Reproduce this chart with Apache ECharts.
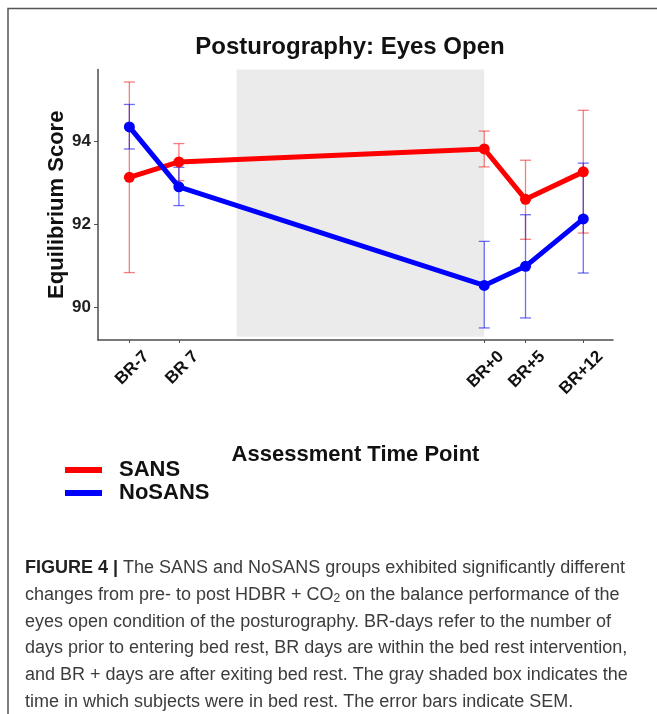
<!DOCTYPE html>
<html>
<head>
<meta charset="utf-8">
<title>Posturography: Eyes Open</title>
<script src="https://cdn.jsdelivr.net/npm/echarts@6.0.0/dist/echarts.min.js"></script>
<style>
    html, body { margin: 0; padding: 0; background: #fff; }
    #main { width: 657px; height: 714px; }
</style>
</head>
<body>
<div id="main"></div>
<script>
    // time points (days relative to start of bed rest) and their labels
    var timeLabels = ['BR-7', 'BR 7', 'BR+0', 'BR+5', 'BR+12'];
    var timeDays = [-13, -7, 30, 35, 42];

    // SANS group: mean and SEM range
    var sansMean = [93.13, 93.50, 93.81, 92.60, 93.26];
    var sansLow = [90.84, 93.05, 93.38, 91.64, 91.79];
    var sansHigh = [95.42, 93.94, 94.24, 93.54, 94.74];

    // NoSANS group
    var noSansMean = [94.34, 92.90, 90.53, 90.99, 92.13];
    var noSansLow = [93.81, 92.45, 89.51, 89.75, 90.83];
    var noSansHigh = [94.88, 93.37, 91.59, 92.23, 93.47];

    var yTicks = [90, 92, 94];
    var bedRest = [0, 30];   // shaded box, days

    var captionLines = [
        '{b|FIGURE 4 |} The SANS and NoSANS groups exhibited significantly different',
        'changes from pre- to post HDBR + CO{s|2} on the balance performance of the',
        'eyes open condition of the posturography. BR-days refer to the number of',
        'days prior to entering bed rest, BR days are within the bed rest intervention,',
        'and BR + days are after exiting bed rest. The gray shaded box indicates the',
        'time in which subjects were in bed rest. The error bars indicate SEM.'
    ];

    function pairs(ys) {
        return timeDays.map(function (d, i) { return [d, ys[i]]; });
    }
    function bars(lo, hi) {
        return timeDays.map(function (d, i) { return [d, lo[i], hi[i]]; });
    }

    // neighbouring labels are put on two axes so they are not hidden as overlapping
    var daysA = timeDays.filter(function (d, i) { return i % 2 === 0; });
    var daysB = timeDays.filter(function (d, i) { return i % 2 === 1; });

    function errorBar(color) {
        return function (params, api) {
            var x = api.value(0);
            var top = api.coord([x, api.value(2)]);
            var bot = api.coord([x, api.value(1)]);
            var w = 5.5;
            var st = { stroke: color, lineWidth: 1.3 };
            return {
                type: 'group',
                children: [
                    { type: 'line', shape: { x1: top[0], y1: top[1], x2: bot[0], y2: bot[1] }, style: st },
                    { type: 'line', shape: { x1: top[0] - w, y1: top[1], x2: top[0] + w, y2: top[1] }, style: st },
                    { type: 'line', shape: { x1: bot[0] - w, y1: bot[1], x2: bot[0] + w, y2: bot[1] }, style: st }
                ]
            };
        };
    }

    var font = 'Liberation Sans, Arial, sans-serif';

    var xLabel = {
        formatter: function (v) { return timeLabels[timeDays.indexOf(v)]; },
        showMinLabel: true,
        showMaxLabel: true,
        hideOverlap: false,
        rotate: 45,
        verticalAlign: 'top',
        lineHeight: 48,
        margin: -3,
        fontFamily: font,
        fontSize: 17,
        fontWeight: 'bold',
        color: '#111'
    };

    var caption = captionLines.map(function (t, i) {
        return {
            type: 'text',
            x: 25,
            y: 568 + i * 26.8,
            style: {
                text: t,
                fill: '#3c3c3c',
                fontFamily: font,
                fontSize: 18,
                verticalAlign: 'middle',
                rich: {
                    b: { fontWeight: 'bold', fill: '#222', fontSize: 18, fontFamily: font },
                    s: { fontSize: 12, fill: '#3c3c3c', fontFamily: font, verticalAlign: 'bottom', padding: [8, 0, 0, 0] }
                }
            }
        };
    });

    var option = {
        backgroundColor: '#fff',
        animation: false,
        title: {
            text: 'Posturography: Eyes Open',
            left: 350,
            top: 33,
            textAlign: 'center',
            padding: 0,
            textStyle: { fontFamily: font, fontSize: 24, fontWeight: 'bold', color: '#111', lineHeight: 28 }
        },
        legend: {
            orient: 'vertical',
            left: 65,
            top: 459,
            padding: 0,
            icon: 'rect',
            itemWidth: 37,
            itemHeight: 6,
            itemGap: 1,
            data: ['SANS', 'NoSANS'],
            textStyle: { fontFamily: font, fontSize: 22, fontWeight: 'bold', color: '#111', lineHeight: 22, padding: [0, 0, 0, 12] }
        },
        grid: { left: 98, right: 44, top: 69.5, bottom: 374, outerBoundsMode: 'none' },
        xAxis: [{
            type: 'value',
            min: -16.8,
            max: 45.6,
            name: 'Assessment Time Point',
            nameLocation: 'middle',
            nameGap: 104,
            nameMoveOverlap: false,
            nameTextStyle: { fontFamily: font, fontSize: 22, fontWeight: 'bold', color: '#111', lineHeight: 22 },
            axisLine: { onZero: false, lineStyle: { color: '#4d4d4d', width: 1.5 } },
            axisTick: { length: 3, lineStyle: { color: '#4d4d4d' }, customValues: timeDays },
            axisLabel: Object.assign({ customValues: daysA }, xLabel),
            splitLine: { show: false }
        }, {
            type: 'value',
            position: 'bottom',
            min: -16.8,
            max: 45.6,
            axisLine: { show: false, onZero: false },
            axisTick: { show: false },
            axisLabel: Object.assign({ customValues: daysB }, xLabel),
            splitLine: { show: false }
        }],
        yAxis: {
            type: 'value',
            min: 89.22,
            max: 95.72,
            name: 'Equilibrium Score',
            nameLocation: 'middle',
            nameGap: 30,
            nameMoveOverlap: false,
            nameTextStyle: { fontFamily: font, fontSize: 22, fontWeight: 'bold', color: '#111' },
            axisLine: { show: true, onZero: false, lineStyle: { color: '#4d4d4d', width: 1.5 } },
            axisTick: { show: true, length: 4, lineStyle: { color: '#4d4d4d' }, customValues: yTicks },
            axisLabel: { customValues: yTicks, margin: 7, fontFamily: font, fontSize: 17, fontWeight: 'bold', color: '#222' },
            splitLine: { show: false }
        },
        graphic: [{
            type: 'polyline',
            shape: { points: [[8, 714], [8, 8.5], [657, 8.5]] },
            style: { stroke: '#555', lineWidth: 1.5, fill: null }
        }].concat(caption),
        series: [
            {
                name: 'shade',
                type: 'line',
                data: [],
                z: 0,
                silent: true,
                markArea: {
                    silent: true,
                    itemStyle: { color: '#ebebeb' },
                    data: [[{ xAxis: bedRest[0], yAxis: 89.3 }, { xAxis: bedRest[1], yAxis: 95.72 }]]
                }
            },
            {
                name: 'SANS err',
                type: 'custom',
                z: 1,
                renderItem: errorBar('rgba(240, 40, 40, 0.6)'),
                encode: { x: 0, y: [1, 2] },
                data: bars(sansLow, sansHigh)
            },
            {
                name: 'NoSANS err',
                type: 'custom',
                z: 1,
                renderItem: errorBar('rgba(30, 30, 240, 0.65)'),
                encode: { x: 0, y: [1, 2] },
                data: bars(noSansLow, noSansHigh)
            },
            {
                name: 'SANS',
                type: 'line',
                z: 3,
                data: pairs(sansMean),
                color: '#ff0000',
                symbol: 'circle',
                symbolSize: 11,
                lineStyle: { width: 5, color: '#ff0000' },
                itemStyle: { color: '#ff0000' }
            },
            {
                name: 'NoSANS',
                type: 'line',
                z: 3,
                data: pairs(noSansMean),
                color: '#0000ff',
                symbol: 'circle',
                symbolSize: 11,
                lineStyle: { width: 5, color: '#0000ff' },
                itemStyle: { color: '#0000ff' }
            }
        ]
    };

    var chart = echarts.init(document.getElementById('main'));
    chart.setOption(option);
</script>
</body>
</html>
